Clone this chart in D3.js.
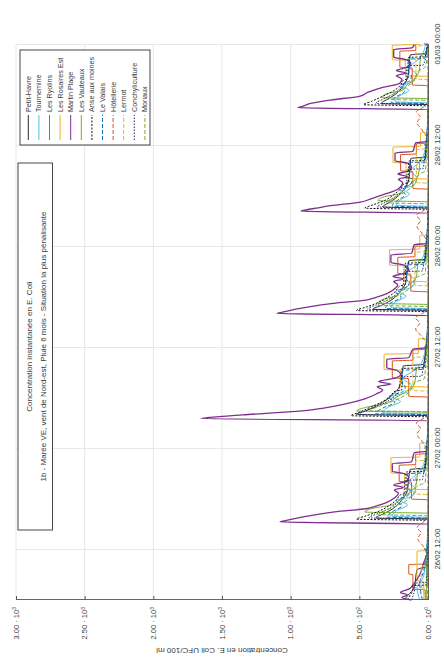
<!DOCTYPE html>
<html>
<head>
<meta charset="utf-8">
<script src="https://cdn.jsdelivr.net/npm/d3@7"></script>
<style>
  html, body { margin: 0; padding: 0; background: #fff; }
  svg { display: block; }
</style>
</head>
<body>
<svg id="chart" width="444" height="664"></svg>
<script>
// Stations, in legend order
const stations = ["Petit-Havre", "Tournemine", "Les Ryolins", "Les Rosaires Est", "Martin Plage",
  "Les Vauteaux", "Anse aux moines", "Le Valais", "Hôtellerie", "Lermot", "Conchyliculture", "Moriaux"];

// Concentration axis ticks (UFC/100 ml) and their labels
const concTicks = [0, 500, 1000, 1500, 2000, 2500, 3000];
const concTickMantissa = ["0.00", "5.00", "1.00", "1.50", "2.00", "2.50", "3.00"];
const concTickExponent = ["0", "2", "3", "3", "3", "3", "3"];

// Time axis ticks, hours after 26/02 06:00
const timeTicks = [6, 18, 30, 42, 54, 66];
const timeTickLabels = ["26/02 12:00", "27/02 00:00", "27/02 12:00", "28/02 00:00", "28/02 12:00", "01/03 00:00"];

// Series: [hours after 26/02 06:00, E. coli UFC/100 ml]
const petitHavre = [[0,170],[0.5,150],[1.0,120],[1.8,95],[2.6,90],[3.6,80],[4.0,10],[8.9,0],
  [9.6,0],[9.75,380],[10.2,330],[10.8,260],[11.5,210],[12.2,175],[13.0,150],[14.5,140],[15.5,130],[15.7,20],[21.4,0],
  [21.9,0],[22.05,520],[22.5,450],[23.1,370],[23.8,300],[24.5,250],[25.3,210],[26.8,190],[27.8,180],[28.0,30],[33.9,0],
  [34.4,0],[34.55,400],[35.0,340],[35.6,270],[36.3,220],[37.0,185],[37.8,160],[39.3,150],[40.3,140],[40.5,20],[46.1,0],
  [46.55,0],[46.7,330],[47.15,290],[47.75,235],[48.45,190],[49.15,160],[49.95,140],[51.45,130],[52.45,125],[52.65,20],[58.4,0],
  [58.85,0],[59.0,340],[59.45,300],[60.05,240],[60.75,195],[61.45,165],[62.25,145],[63.75,135],[64.75,130],[64.95,20],[66,0]];

const tournemine = [[0,60],[1.5,80],[2.5,40],[4,20],[9.4,0],
  [9.8,0],[9.95,260],[10.6,230],[11.3,150],[11.8,200],[12.4,110],[13.2,90],[14.0,140],[15.2,60],[17,20],[21.7,0],
  [22.1,0],[22.25,330],[22.9,290],[23.6,200],[24.1,260],[24.7,150],[25.5,120],[26.3,180],[27.5,80],[29.3,25],[34.2,0],
  [34.6,0],[34.75,270],[35.4,240],[36.1,160],[36.6,210],[37.2,115],[38.0,95],[38.8,150],[40.0,65],[41.8,20],[46.35,0],
  [46.75,0],[46.9,230],[47.55,200],[48.25,135],[48.75,180],[49.35,100],[50.15,80],[50.95,125],[52.15,55],[53.9,18],[58.6,0],
  [59.05,0],[59.2,240],[59.85,210],[60.55,140],[61.05,185],[61.65,105],[62.45,85],[63.25,130],[64.45,55],[66,18]];

const lesRyolins = [[0,20],[1.2,20],[1.3,110],[3.0,110],[3.1,140],[4.2,140],[4.3,0],[11.5,0],
  [11.9,0],[12.0,120],[14.0,120],[14.1,210],[16.0,210],[16.1,90],[17.3,90],[17.4,0],[23.7,0],
  [24.1,0],[24.2,140],[26.3,140],[26.4,260],[28.4,260],[28.5,110],[29.7,110],[29.8,0],[36.2,0],
  [36.6,0],[36.7,125],[38.7,125],[38.8,220],[40.7,220],[40.8,95],[42.0,95],[42.1,0],[48.4,0],
  [48.8,0],[48.9,110],[50.9,110],[51.0,200],[52.9,200],[53.0,85],[54.2,85],[54.3,0],[60.7,0],
  [61.1,0],[61.2,115],[63.2,115],[63.3,205],[65.2,205],[65.3,90],[66,90]];

const lesRosairesEst = [[0,30],[2.2,30],[2.3,80],[5.8,80],[5.9,0],[12.7,0],
  [13.1,0],[13.2,170],[15.0,170],[15.1,270],[16.9,270],[17.0,60],[18.6,60],[18.7,0],[24.9,0],
  [25.3,0],[25.4,200],[27.3,200],[27.4,320],[29.2,320],[29.3,70],[31.0,70],[31.1,0],[37.4,0],
  [37.8,0],[37.9,175],[39.7,175],[39.8,280],[41.6,280],[41.7,60],[43.3,60],[43.4,0],[49.6,0],
  [50.0,0],[50.1,160],[51.9,160],[52.0,255],[53.8,255],[53.9,55],[55.5,55],[55.6,0],[61.8,0],
  [62.2,0],[62.3,165],[64.1,165],[64.2,260],[65.9,260],[66,60]];

const martinPlage = [[0,120],[0.3,190],[0.6,150],[0.9,200],[1.3,140],[2.0,100],[3.0,60],[4.5,30],[6.0,0],[9.03,0],
  [9.27,1078],[9.42,1040],[9.87,910],[10.2,790],[10.47,680],[10.87,440],[11.1,390],[11.6,300],[12.17,240],[12.67,215],[13.07,245],[13.37,180],[13.67,250],[14.07,160],[14.5,140],[15.0,170],[15.3,260],[16.2,260],[16.4,120],[17.5,100],[17.7,0],[21.3,0],
  [21.55,1653],[21.7,1590],[22.0,1350],[22.4,960],[22.8,760],[23.3,600],[23.9,460],[24.45,380],[24.95,330],[25.35,370],[25.65,270],[25.95,360],[26.35,240],[26.8,200],[27.3,230],[27.6,300],[28.6,300],[28.8,140],[29.8,110],[30.0,0],[33.8,0],
  [34.05,1100],[34.2,1060],[34.65,930],[35.0,800],[35.25,690],[35.64,450],[35.9,390],[36.4,300],[36.95,245],[37.45,220],[37.85,250],[38.15,180],[38.45,255],[38.85,165],[39.3,140],[39.8,175],[40.1,270],[41.0,270],[41.2,120],[42.2,100],[42.4,0],[45.98,0],
  [46.2,925],[46.35,890],[46.6,800],[46.85,710],[47.25,500],[47.7,410],[48.3,300],[48.8,220],[49.6,185],[50.0,215],[50.3,150],[50.6,220],[51.0,140],[51.4,120],[51.9,150],[52.2,240],[53.1,240],[53.3,110],[54.3,90],[54.5,0],[58.28,0],
  [58.5,948],[58.65,915],[59.0,855],[59.4,710],[59.85,500],[60.3,440],[60.9,330],[61.4,205],[61.9,190],[62.3,230],[62.6,160],[62.9,230],[63.3,150],[63.7,125],[64.2,160],[64.5,250],[65.4,250],[65.6,115],[66,100]];

const lesVauteaux = [[0,10],[3,10],[9.9,0],
  [10.3,0],[10.45,460],[10.9,400],[11.3,260],[11.9,210],[12.8,130],[13.5,90],[15.5,70],[15.6,0],[22.3,0],
  [22.3,0],[22.45,520],[22.9,450],[23.4,300],[24.0,240],[24.9,150],[25.6,100],[27.6,80],[27.7,0],[35.1,0],
  [35.1,0],[35.25,365],[35.7,330],[36.1,240],[36.7,195],[37.6,125],[38.3,88],[40.3,68],[40.4,0],[47.2,0],
  [47.3,0],[47.45,365],[47.9,320],[48.3,205],[48.9,165],[49.8,100],[50.5,70],[52.5,55],[52.6,0],[59.5,0],
  [59.55,0],[59.7,335],[60.15,300],[60.55,190],[61.15,155],[62.05,95],[62.75,65],[64.75,52],[64.85,0],[66,0]];

const anseAuxMoines = [[0,150],[0.6,130],[1.2,110],[1.7,110],[1.8,0],[9.4,0],
  [9.45,0],[9.6,520],[10.0,450],[10.6,350],[11.2,285],[11.9,230],[12.5,200],[12.7,160],[15.2,160],[15.3,25],[17,10],[21.7,0],
  [21.75,0],[21.9,560],[22.3,500],[22.9,420],[23.5,340],[24.2,275],[24.8,240],[25.0,190],[27.5,190],[27.6,30],[29.5,10],[34.2,0],
  [34.25,0],[34.4,520],[34.8,450],[35.4,355],[36.0,290],[36.7,235],[37.3,205],[37.5,165],[40.0,165],[40.1,25],[42,10],[46.35,0],
  [46.4,0],[46.55,460],[46.95,400],[47.55,305],[48.15,250],[48.85,200],[49.45,175],[49.65,140],[52.15,140],[52.25,20],[54,8],[58.65,0],
  [58.7,0],[58.85,470],[59.25,410],[59.85,330],[60.45,255],[61.15,200],[61.75,180],[61.95,145],[64.45,145],[64.55,20],[66,8]];

const leValais = [[0,40],[2,60],[3.5,30],[9.6,0],
  [9.7,0],[9.85,300],[10.5,260],[11.2,190],[11.8,230],[12.5,140],[13.1,130],[13.2,150],[15.0,150],[15.1,30],[21.9,0],
  [22.0,0],[22.15,380],[22.8,330],[23.5,240],[24.1,290],[24.8,180],[25.4,165],[25.5,185],[27.3,185],[27.4,35],[34.4,0],
  [34.5,0],[34.65,310],[35.3,270],[36.0,195],[36.6,235],[37.3,145],[37.9,135],[38.0,155],[39.8,155],[39.9,30],[46.55,0],
  [46.65,0],[46.8,260],[47.45,225],[48.15,165],[48.75,200],[49.45,125],[50.05,115],[50.15,135],[51.95,135],[52.05,25],[58.85,0],
  [58.95,0],[59.1,270],[59.75,235],[60.45,170],[61.05,205],[61.75,130],[62.35,120],[62.45,140],[64.25,140],[64.35,25],[66,0]];

const hotellerie = [[0,0],[5,0],[6.5,40],[7.3,75],[8.0,50],[8.6,80],[9.3,30],[10.0,0],
  [17.5,0],[18.9,45],[19.7,80],[20.4,55],[21.0,85],[21.6,30],[22.3,0],
  [30.0,0],[31.4,50],[32.2,90],[32.9,60],[33.5,90],[34.1,35],[34.8,0],
  [42.2,0],[43.6,45],[44.4,80],[45.1,55],[45.7,85],[46.3,30],[47.0,0],
  [54.5,0],[55.9,45],[56.7,80],[57.4,55],[58.0,85],[58.6,30],[59.3,0],[66,0]];

const lermot = [[0,0],[2,50],[4,50],[4.1,0],
  [12.5,0],[12.6,90],[16.5,90],[16.6,30],[18,0],
  [24.8,0],[24.9,110],[28.8,110],[28.9,35],[30.3,0],
  [37.3,0],[37.4,95],[41.3,95],[41.4,30],[42.8,0],
  [49.5,0],[49.6,85],[53.5,85],[53.6,28],[55,0],
  [61.8,0],[61.9,88],[65.8,88],[65.9,30],[66,30]];

const conchyliculture = [[0,120],[1,100],[2,90],[2.1,10],[9.5,0],
  [9.6,0],[9.75,430],[10.3,360],[11,270],[11.8,210],[12.6,175],[14.2,170],[14.3,40],[21.8,0],
  [21.9,0],[22.05,500],[22.6,430],[23.3,330],[24.1,250],[24.9,210],[26.5,200],[26.6,45],[34.3,0],
  [34.4,0],[34.55,440],[35.1,370],[35.8,275],[36.6,215],[37.4,180],[39.0,175],[39.1,40],[46.5,0],
  [46.55,0],[46.7,370],[47.25,310],[47.95,235],[48.75,185],[49.55,155],[51.15,150],[51.25,35],[58.8,0],
  [58.85,0],[59.0,380],[59.55,320],[60.25,240],[61.05,190],[61.85,160],[63.45,155],[63.55,35],[66,0]];

const moriaux = [[0,0],[9.9,0],
  [10.0,0],[10.15,360],[10.7,300],[11.4,200],[12.3,120],[13.5,80],[14.0,20],[22.3,0],
  [22.35,0],[22.5,420],[23.05,350],[23.75,235],[24.65,140],[25.85,95],[26.35,25],[34.8,0],
  [34.85,0],[35.0,370],[35.55,305],[36.25,205],[37.15,125],[38.35,82],[38.85,20],[47.0,0],
  [47.05,0],[47.2,300],[47.75,250],[48.45,170],[49.35,100],[50.55,68],[51.05,18],[59.3,0],
  [59.35,0],[59.5,310],[60.05,260],[60.75,175],[61.65,105],[62.85,70],[63.35,18],[66,0]];

const seriesValues = [petitHavre, tournemine, lesRyolins, lesRosairesEst, martinPlage, lesVauteaux,
  anseAuxMoines, leValais, hotellerie, lermot, conchyliculture, moriaux];

const lineColors = ["#2b2b3a", "#4dbeee", "#d95319", "#edb120", "#7e2f8e", "#77ac30",
  "#111111", "#0072bd", "#d95319", "#edb120", "#1f2a6b", "#77ac30"];
const lineDashes = [null, null, null, null, null, null, "2,1.5", "4,2", "4,2", "4,2", "1.5,1.5", "4,2"];

// ---- drawing ----
const svg = d3.select("#chart");
const font = "'Liberation Sans', Arial, Helvetica, sans-serif";
const textColor = "#3a3a3a";

// The axes are drawn as a landscape chart, then turned a quarter turn counter-clockwise.
const W = 555.5, H = 412;
const t0 = Date.UTC(2019, 1, 26, 6, 0);
const hourToDate = h => new Date(t0 + h * 3600e3);

const x = d3.scaleUtc().domain([hourToDate(0), hourToDate(66)]).range([0, W]);
const y = d3.scaleLinear().domain([0, 3000]).range([H, 0]);

const g = svg.append("g").attr("transform", "translate(16,600) rotate(-90)");

// grid
const grid = g.append("g").attr("stroke", "#e2e2e2").attr("stroke-width", 0.8);
grid.selectAll("line.gy").data(concTicks).join("line")
  .attr("x1", 0).attr("x2", W).attr("y1", d => y(d)).attr("y2", d => y(d));
grid.selectAll("line.gx").data(timeTicks).join("line")
  .attr("x1", d => x(hourToDate(d))).attr("x2", d => x(hourToDate(d))).attr("y1", 0).attr("y2", H);

// series
const line = d3.line().x(d => x(hourToDate(d[0]))).y(d => y(d[1])).curve(d3.curveMonotoneX);
const plot = g.append("g").attr("fill", "none");
seriesValues.forEach((vals, i) => {
  plot.append("path")
    .attr("d", line(vals))
    .attr("stroke", lineColors[i])
    .attr("stroke-width", i === 4 ? 1.3 : 1)
    .attr("stroke-dasharray", lineDashes[i])
    .attr("stroke-linejoin", "round");
});

// axes
const xAxis = d3.axisBottom(x)
  .tickValues(timeTicks.map(hourToDate))
  .tickFormat((d, i) => timeTickLabels[i])
  .tickSizeInner(-4).tickSizeOuter(0).tickPadding(6);
const gx = g.append("g").attr("transform", `translate(0,${H})`).call(xAxis);

const yAxis = d3.axisLeft(y)
  .tickValues(concTicks)
  .tickFormat("")
  .tickSizeInner(-4).tickSizeOuter(0);
const gy = g.append("g").call(yAxis);

[gx, gy].forEach(a => {
  a.select(".domain").attr("stroke", "#555").attr("stroke-width", 0.9);
  a.selectAll(".tick line").attr("stroke", "#555");
  a.selectAll("text").attr("fill", textColor).style("font-family", font).style("font-size", "7.8px");
});

// concentration tick labels with exponent
const yLabels = g.append("g").style("font-family", font).style("font-size", "7.5px").attr("fill", textColor);
concTicks.forEach((v, i) => {
  const t = yLabels.append("text")
    .attr("x", -7).attr("y", y(v)).attr("dy", "0.35em").attr("text-anchor", "end");
  t.append("tspan").text(concTickMantissa[i] + " · 10");
  t.append("tspan").attr("dy", "-0.45em").style("font-size", "5px").text(concTickExponent[i]);
});

// axis title
g.append("text")
  .attr("transform", `translate(-48,${H / 2}) rotate(-90)`)
  .attr("text-anchor", "middle")
  .style("font-family", font).style("font-size", "8px").attr("fill", textColor)
  .text("Concentration en E. Coli UFC/100 ml");

// title box
const tb = g.append("g");
tb.append("rect").attr("x", 70).attr("y", 2).attr("width", 367).attr("height", 34.5)
  .attr("fill", "#fff").attr("stroke", "#333").attr("stroke-width", 0.9);
tb.append("text").attr("x", 253.5).attr("y", 16).attr("text-anchor", "middle")
  .style("font-family", font).style("font-size", "8px").attr("fill", textColor)
  .text("Concentration instantanée en E. Coli");
tb.append("text").attr("x", 253.5).attr("y", 30).attr("text-anchor", "middle")
  .style("font-family", font).style("font-size", "8px").attr("fill", textColor)
  .text("1b - Marée VE, vent de Nord-est, Pluie 6 mois - Situation la plus pénalisante");

// legend
const lg = g.append("g");
lg.append("rect").attr("x", 455).attr("y", 4).attr("width", 95).attr("height", 130)
  .attr("fill", "#fff").attr("stroke", "#333").attr("stroke-width", 0.9);
stations.forEach((name, i) => {
  const ry = 12.3 + i * 10.6;
  lg.append("line").attr("x1", 460).attr("x2", 485).attr("y1", ry).attr("y2", ry)
    .attr("stroke", lineColors[i]).attr("stroke-width", 1)
    .attr("stroke-dasharray", lineDashes[i]);
  lg.append("text").attr("x", 488).attr("y", ry).attr("dy", "0.35em")
    .style("font-family", font).style("font-size", "7.2px").attr("fill", textColor)
    .text(name);
});
</script>
</body>
</html>
